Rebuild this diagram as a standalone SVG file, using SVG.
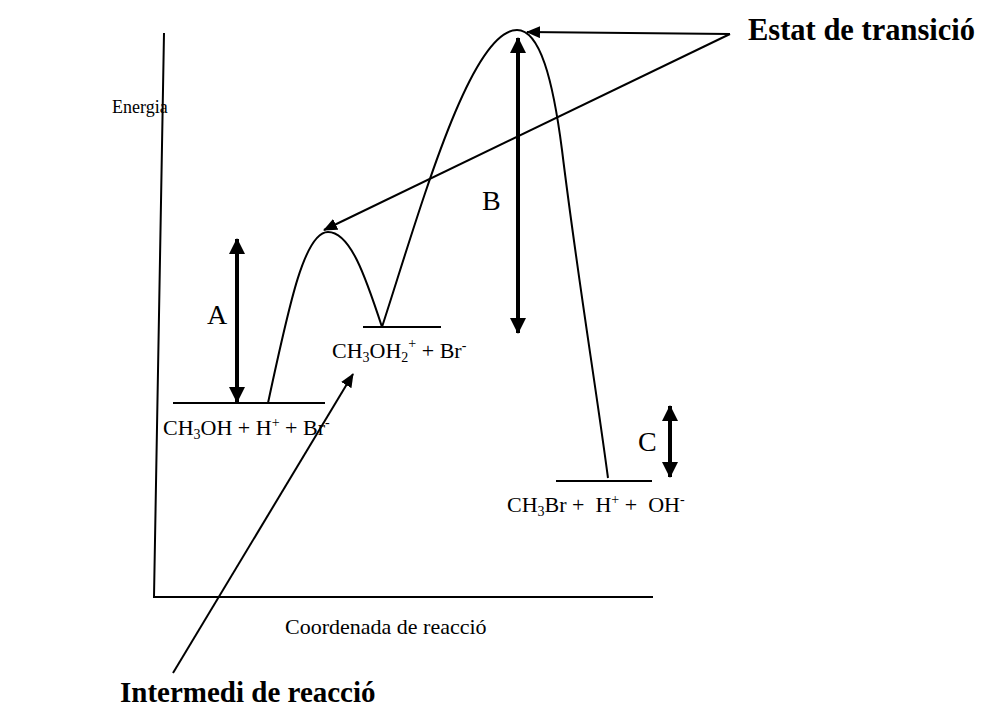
<svg xmlns="http://www.w3.org/2000/svg" width="985" height="708" viewBox="0 0 985 708">
<style>
.ln{fill:none;stroke:#000;stroke-width:2}
.thick{fill:none;stroke:#000;stroke-width:4}
.t{font-family:"Liberation Serif","Times New Roman",serif;fill:#000}
.b{font-family:"Liberation Serif","Times New Roman",serif;font-weight:bold;fill:#000}
</style>
<defs>
<marker id="big" markerUnits="userSpaceOnUse" markerWidth="16" markerHeight="16" viewBox="0 0 16 16" refX="15" refY="8" orient="auto-start-reverse">
<path d="M0,0 L16,8 L0,16 Z" fill="#000"/>
</marker>
<marker id="sm" markerUnits="userSpaceOnUse" markerWidth="14" markerHeight="12" viewBox="0 0 14 12" refX="13" refY="6" orient="auto">
<path d="M0,0 L14,6 L0,12 Z" fill="#000"/>
</marker>
</defs>
<rect width="985" height="708" fill="#fff"/>
<g id="axes">
<path class="ln" d="M164,33 L154,597 L653,597"/>
<text class="t" x="112" y="113" font-size="18">Energia</text>
<text class="t" x="285" y="634" font-size="22">Coordenada de reacció</text>
</g>
<g id="curve">
<path class="ln" d="M268,403 C290,300 305,232 328,232 C350,232 365,275 382,327"/>
<path class="ln" d="M382,327 C420,210 470,30 517,30 C540,30 553,80 562,150 C578,280 595,380 608,478"/>
</g>
<g id="reactants">
<line class="ln" x1="173" y1="403" x2="325" y2="403"/>
<text class="t" x="163" y="435" font-size="22">CH<tspan font-size="14" dy="4">3</tspan><tspan dy="-4">OH + H</tspan><tspan font-size="14" dy="-8">+</tspan><tspan dy="8"> + Br</tspan><tspan font-size="14" dy="-8">-</tspan></text>
</g>
<g id="intermediate">
<line class="ln" x1="363" y1="327" x2="441" y2="327"/>
<text class="t" x="332" y="358" font-size="22">CH<tspan font-size="14" dy="4">3</tspan><tspan dy="-4">OH</tspan><tspan font-size="14" dy="4">2</tspan><tspan font-size="14" dy="-14">+</tspan><tspan dy="10"> + Br</tspan><tspan font-size="14" dy="-8">-</tspan></text>
</g>
<g id="products">
<line class="ln" x1="556" y1="481" x2="652" y2="481"/>
<text class="t" x="507" y="512" font-size="22" xml:space="preserve">CH<tspan font-size="14" dy="4">3</tspan><tspan dy="-4">Br +  H</tspan><tspan font-size="14" dy="-8">+</tspan><tspan dy="8"> +  OH</tspan><tspan font-size="14" dy="-8">-</tspan></text>
</g>
<g id="energy-A">
<line class="thick" x1="237" y1="239" x2="237" y2="402" marker-start="url(#big)" marker-end="url(#big)"/>
<text class="t" x="207" y="324" font-size="28">A</text>
</g>
<g id="energy-B">
<line class="thick" x1="518" y1="38" x2="518" y2="333" marker-start="url(#big)" marker-end="url(#big)"/>
<text class="t" x="482" y="210" font-size="28">B</text>
</g>
<g id="energy-C">
<line class="thick" x1="670" y1="406" x2="670" y2="477" marker-start="url(#big)" marker-end="url(#big)"/>
<text class="t" x="638" y="451" font-size="28">C</text>
</g>
<g id="label-transition">
<text class="b" x="748" y="40" font-size="30.5">Estat de transició</text>
</g>
<g id="label-intermediate">
<text class="b" x="120" y="702" font-size="29">Intermedi de reacció</text>
</g>
<g id="connectors">
<line class="ln" x1="730" y1="34" x2="527" y2="32" marker-end="url(#sm)"/>
<line class="ln" x1="730" y1="34" x2="324" y2="230" marker-end="url(#sm)"/>
<line class="ln" x1="173" y1="673" x2="353" y2="374" marker-end="url(#sm)"/>
</g>
</svg>
